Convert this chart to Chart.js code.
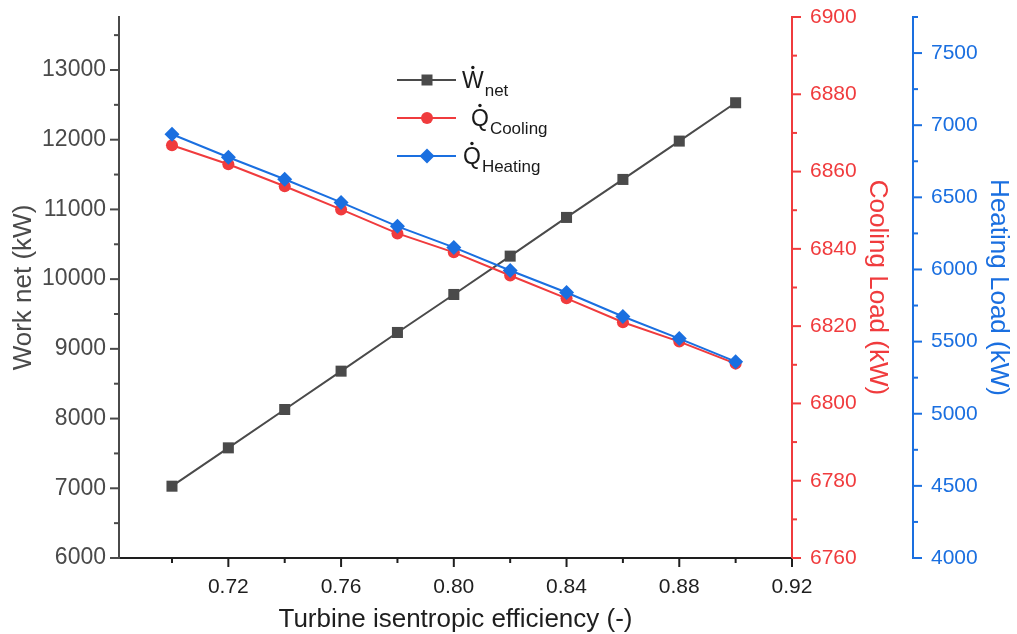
<!DOCTYPE html>
<html>
<head>
<meta charset="utf-8">
<script src="https://cdn.jsdelivr.net/npm/chart.js@4.4.1/dist/chart.umd.min.js"></script>
<style>
  html, body { margin: 0; padding: 0; background: #fff; }
  #wrap { width: 1017px; height: 634px; }
</style>
</head>
<body>
<div id="wrap"><canvas id="chart" width="1017" height="634"></canvas></div>
<script>
const efficiency = [0.70, 0.72, 0.74, 0.76, 0.78, 0.80, 0.82, 0.84, 0.86, 0.88, 0.90];
const workNet = [7030, 7580, 8130, 8680, 9235, 9780, 10330, 10885, 11430, 11980, 12530];
const coolingLoad = [6866.8, 6861.9, 6856.2, 6850.2, 6844.0, 6839.1, 6833.1, 6827.2, 6821.0, 6816.0, 6810.3];
const heatingLoad = [6937, 6778, 6625, 6465, 6299, 6153, 5993, 5840, 5674, 5521, 5361];

const xTicks = [0.72, 0.76, 0.80, 0.84, 0.88, 0.92];
const workTicks = [6000, 7000, 8000, 9000, 10000, 11000, 12000, 13000];
const coolingTicks = [6760, 6780, 6800, 6820, 6840, 6860, 6880, 6900];
const heatingTicks = [4000, 4500, 5000, 5500, 6000, 6500, 7000, 7500];

const GREY = '#4a4a4a';
const RED = '#f03b3d';
const BLUE = '#1a6fe0';
const FONT = "'Liberation Sans', Arial, sans-serif";

const pts = (ys) => efficiency.map((x, i) => ({ x: x, y: ys[i] }));

// ticks at half a major step, kept inside the axis range
const minorTicks = (major, min, max) => {
    const step = major[1] - major[0];
    const out = [];
    for (let v = major[0] - step / 2; v >= min - 1e-9; v -= step) out.push(v);
    for (let v = major[0] + step / 2; v <= max + 1e-9; v += step) out.push(v);
    return out;
};

const fixedTicks = (list) => (scale) => { scale.ticks = list.map(v => ({ value: v })); };
const plain = v => String(v);
// vertical axes get a fixed width and no extra top/bottom room
const fitWidth = (w) => (s) => { s.width = w; s.paddingTop = 0; s.paddingBottom = 0; };

// major/minor tick marks drawn outward from each axis line
const axisTicks = {
    id: 'axisTicks',
    afterDraw(chart) {
        const ctx = chart.ctx;
        const defs = [
            { id: 'x', side: 'bottom', color: '#1e1e1e', major: xTicks },
            { id: 'y', side: 'left', color: GREY, major: workTicks },
            { id: 'y1', side: 'right', color: RED, major: coolingTicks },
            { id: 'y2', side: 'right', color: BLUE, major: heatingTicks }
        ];
        ctx.save();
        ctx.lineWidth = 2;
        defs.forEach(d => {
            const s = chart.scales[d.id];
            const minor = minorTicks(d.major, s.min, s.max);
            ctx.strokeStyle = d.color;
            const mark = (v, len) => {
                const p = s.getPixelForValue(v);
                ctx.beginPath();
                if (d.side === 'bottom') {
                    ctx.moveTo(p, s.top); ctx.lineTo(p, s.top + len);
                } else if (d.side === 'left') {
                    ctx.moveTo(s.right, p); ctx.lineTo(s.right - len, p);
                } else {
                    ctx.moveTo(s.left, p); ctx.lineTo(s.left + len, p);
                }
                ctx.stroke();
            };
            d.major.forEach(v => mark(v, 9));
            minor.forEach(v => mark(v, 5));
        });
        ctx.restore();
    }
};

// legend with dotted symbols and subscripts
const rateLegend = {
    id: 'rateLegend',
    afterDraw(chart) {
        const ctx = chart.ctx;
        const rows = [
            { y: 80, color: GREY, marker: 'rect', sym: 'W', sub: 'net', tx: 462 },
            { y: 118, color: RED, marker: 'circle', sym: 'Q', sub: 'Cooling', tx: 471 },
            { y: 156, color: BLUE, marker: 'rectRot', sym: 'Q', sub: 'Heating', tx: 463 }
        ];
        ctx.save();
        rows.forEach(r => {
            ctx.strokeStyle = r.color;
            ctx.lineWidth = 2;
            ctx.beginPath();
            ctx.moveTo(397, r.y);
            ctx.lineTo(456, r.y);
            ctx.stroke();
            ctx.fillStyle = r.color;
            ctx.beginPath();
            if (r.marker === 'rect') ctx.rect(427 - 5.5, r.y - 5.5, 11, 11);
            else if (r.marker === 'circle') ctx.arc(427, r.y, 6, 0, Math.PI * 2);
            else {
                ctx.moveTo(427, r.y - 7.5); ctx.lineTo(434.5, r.y);
                ctx.lineTo(427, r.y + 7.5); ctx.lineTo(419.5, r.y);
                ctx.closePath();
            }
            ctx.fill();

            ctx.fillStyle = '#1a1a1a';
            ctx.textBaseline = 'alphabetic';
            ctx.font = '23px ' + FONT;
            const base = r.y + 8;
            ctx.fillText(r.sym, r.tx, base);
            const w = ctx.measureText(r.sym).width;
            ctx.beginPath();
            ctx.arc(r.tx + w / 2, base - 20.5, 1.7, 0, Math.PI * 2);
            ctx.fill();
            ctx.font = '17px ' + FONT;
            ctx.fillText(r.sub, r.tx + w + 1, base + 8);
        });
        ctx.restore();
    }
};

const ctx = document.getElementById('chart').getContext('2d');
new Chart(ctx, {
    type: 'line',
    data: {
        datasets: [
            {
                label: 'Wnet', data: pts(workNet), yAxisID: 'y', order: 3,
                borderColor: GREY, backgroundColor: GREY, borderWidth: 2,
                pointStyle: 'rect', pointRadius: 7.8, pointBorderWidth: 0
            },
            {
                label: 'QCooling', data: pts(coolingLoad), yAxisID: 'y1', order: 2,
                borderColor: RED, backgroundColor: RED, borderWidth: 2,
                pointStyle: 'circle', pointRadius: 6, pointBorderWidth: 0
            },
            {
                label: 'QHeating', data: pts(heatingLoad), yAxisID: 'y2', order: 1,
                borderColor: BLUE, backgroundColor: BLUE, borderWidth: 2,
                pointStyle: 'rectRot', pointRadius: 7.5, pointBorderWidth: 0
            }
        ]
    },
    options: {
        responsive: false,
        devicePixelRatio: 1,
        animation: false,
        layout: { padding: { top: 17, left: 0, right: 0, bottom: 0 } },
        plugins: { legend: { display: false }, tooltip: { enabled: false } },
        scales: {
            x: {
                type: 'linear', min: 0.6812, max: 0.92,
                afterFit: s => { s.height = 76; },
                afterBuildTicks: fixedTicks(xTicks),
                grid: { display: false },
                border: { display: true, color: '#1e1e1e', width: 2 },
                ticks: { color: '#1e1e1e', font: { family: FONT, size: 21 }, padding: 9,
                         callback: v => v.toFixed(2) },
                title: { display: true, text: 'Turbine isentropic efficiency (-)', color: '#1e1e1e',
                         font: { family: FONT, size: 26, lineHeight: 1 }, padding: { bottom: 1 } }
            },
            y: {
                type: 'linear', position: 'left', min: 6000, max: 13760,
                afterFit: fitWidth(119),
                afterBuildTicks: fixedTicks(workTicks),
                grid: { display: false },
                border: { display: true, color: GREY, width: 2 },
                ticks: { color: GREY, font: { family: FONT, size: 23 }, padding: 5, callback: plain },
                title: { display: true, text: 'Work net (kW)', color: GREY,
                         font: { family: FONT, size: 26 }, padding: { top: 8 } }
            },
            y1: {
                type: 'linear', position: 'right', weight: 0, min: 6760, max: 6900,
                afterFit: fitWidth(121),
                afterBuildTicks: fixedTicks(coolingTicks),
                grid: { display: false },
                border: { display: true, color: RED, width: 2 },
                ticks: { color: RED, font: { family: FONT, size: 21 }, padding: 10, callback: plain },
                title: { display: true, text: 'Cooling Load (kW)', color: RED,
                         font: { family: FONT, size: 26 }, padding: { top: 20 } }
            },
            y2: {
                type: 'linear', position: 'right', weight: 1, min: 4000, max: 7750,
                afterFit: fitWidth(104),
                afterBuildTicks: fixedTicks(heatingTicks),
                grid: { display: false },
                border: { display: true, color: BLUE, width: 2 },
                ticks: { color: BLUE, font: { family: FONT, size: 21 }, padding: 10, callback: plain },
                title: { display: true, text: 'Heating Load (kW)', color: BLUE,
                         font: { family: FONT, size: 26 }, padding: { top: 3 } }
            }
        }
    },
    plugins: [axisTicks, rateLegend]
});
</script>
</body>
</html>
